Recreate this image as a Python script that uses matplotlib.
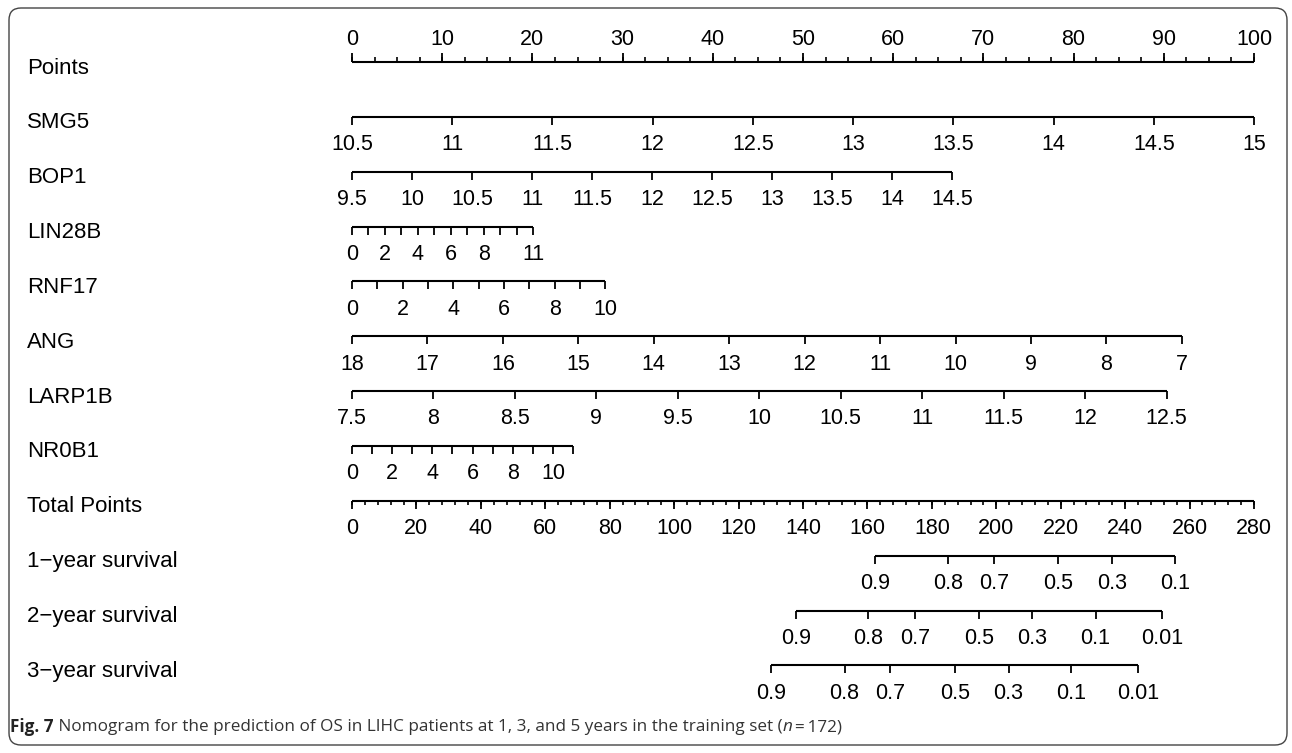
import matplotlib
matplotlib.use('Agg')
import matplotlib.pyplot as plt
import matplotlib.transforms as mtransforms
from matplotlib.patches import FancyBboxPatch
import numpy as np

plt.rcParams['font.family'] = ['Liberation Sans', 'DejaVu Sans']

# --- nomogram data ---
row_names = ['Points', 'SMG5', 'BOP1', 'LIN28B', 'RNF17', 'ANG', 'LARP1B', 'NR0B1',
             'Total Points', '1\u2212year survival', '2\u2212year survival',
             '3\u2212year survival']

points_major = list(range(0, 101, 10))
points_minor = [2.5 * i for i in range(41)]

# predictor scales: tick values, labelled values, points reached at the last tick
smg5_ticks = [10.5, 11, 11.5, 12, 12.5, 13, 13.5, 14, 14.5, 15]
smg5_labels = [10.5, 11, 11.5, 12, 12.5, 13, 13.5, 14, 14.5, 15]
smg5_max_pts = 100.0

bop1_ticks = [9.5, 10, 10.5, 11, 11.5, 12, 12.5, 13, 13.5, 14, 14.5]
bop1_labels = [9.5, 10, 10.5, 11, 11.5, 12, 12.5, 13, 13.5, 14, 14.5]
bop1_max_pts = 66.5

lin28b_ticks = [0, 1, 2, 3, 4, 5, 6, 7, 8, 9, 10, 11]
lin28b_labels = [0, 2, 4, 6, 8, 11]
lin28b_max_pts = 20.1

rnf17_ticks = [0, 1, 2, 3, 4, 5, 6, 7, 8, 9, 10]
rnf17_labels = [0, 2, 4, 6, 8, 10]
rnf17_max_pts = 28.1

ang_ticks = [18, 17, 16, 15, 14, 13, 12, 11, 10, 9, 8, 7]
ang_labels = [18, 17, 16, 15, 14, 13, 12, 11, 10, 9, 8, 7]
ang_max_pts = 92.0

larp1b_ticks = [7.5, 8, 8.5, 9, 9.5, 10, 10.5, 11, 11.5, 12, 12.5]
larp1b_labels = [7.5, 8, 8.5, 9, 9.5, 10, 10.5, 11, 11.5, 12, 12.5]
larp1b_max_pts = 90.3

nr0b1_ticks = [0, 1, 2, 3, 4, 5, 6, 7, 8, 9, 10, 11]
nr0b1_labels = [0, 2, 4, 6, 8, 10]
nr0b1_max_pts = 24.5

total_max = 280
total_major = list(range(0, 281, 20))
total_minor = list(range(0, 281, 4))

surv_probs_1y = [0.9, 0.8, 0.7, 0.5, 0.3, 0.1]
surv_total_1y = [162.4, 185.1, 199.2, 219.1, 235.9, 255.5]
surv_probs_2y = [0.9, 0.8, 0.7, 0.5, 0.3, 0.1, 0.01]
surv_total_2y = [137.8, 160.2, 174.7, 194.7, 211.2, 230.8, 251.4]
surv_probs_3y = [0.9, 0.8, 0.7, 0.5, 0.3, 0.1, 0.01]
surv_total_3y = [130.2, 152.9, 167.1, 187.1, 203.8, 223.3, 244.1]

caption_bold = 'Fig. 7'
caption_text = ' Nomogram for the prediction of OS in LIHC patients at 1, 3, and 5 years in the training set ('
caption_n = 'n'
caption_end = '\u2009=\u2009172)'

# --- layout (pixels of the 1292x753 output) ---
W, H, DPI = 1292, 753, 100
x_zero, px_per_pt = 352.0, 9.02
y_first, row_step = 62.0, 54.85
FS = 15.5
FS_ROW = 16
LW = 1.5

fig = plt.figure(figsize=(W / DPI, H / DPI), dpi=DPI)
ax = fig.add_axes([0, 0, 1, 1])
ax.set_xlim(-x_zero / px_per_pt, (W - x_zero) / px_per_pt)
ax.set_ylim((H - y_first) / row_step, -y_first / row_step)
ax.axis('off')


def fmt(v):
    return '%g' % v


def draw_scale(row, xs, tick_xs, label_xs, labels, up=False, minor_xs=None,
               tick_len=5.8, minor_len=3.0):
    ax.plot([min(xs), max(xs)], [row, row], color='black', lw=LW,
            solid_capstyle='butt')
    mk = 2 if up else 3
    ax.plot(tick_xs, [row] * len(tick_xs), ls='none', marker=mk, ms=tick_len,
            mew=1.3, color='black')
    if minor_xs is not None:
        ax.plot(minor_xs, [row] * len(minor_xs), ls='none', marker=mk,
                ms=minor_len, mew=1.2, color='black')
    dy = 16.5 if up else -20
    for x, lab in zip(label_xs, labels):
        ax.annotate(lab, (x, row), xytext=(0, dy), textcoords='offset points',
                    ha='center', va='center', fontsize=FS)


def predictor(row, ticks, labels, max_pts):
    lo, hi = ticks[0], ticks[-1]
    to_pts = lambda v: (v - lo) / (hi - lo) * max_pts
    txs = [to_pts(v) for v in ticks]
    lxs = [to_pts(v) for v in labels]
    draw_scale(row, txs, txs, lxs, [fmt(v) for v in labels])


# Points axis
draw_scale(0, points_major, points_major, points_major,
           [str(v) for v in points_major], up=True, minor_xs=points_minor,
           tick_len=6.3, minor_len=3.4)

predictor(1, smg5_ticks, smg5_labels, smg5_max_pts)
predictor(2, bop1_ticks, bop1_labels, bop1_max_pts)
predictor(3, lin28b_ticks, lin28b_labels, lin28b_max_pts)
predictor(4, rnf17_ticks, rnf17_labels, rnf17_max_pts)
predictor(5, ang_ticks, ang_labels, ang_max_pts)
predictor(6, larp1b_ticks, larp1b_labels, larp1b_max_pts)
predictor(7, nr0b1_ticks, nr0b1_labels, nr0b1_max_pts)

# Total points axis, rescaled onto the 0-100 points width
tp = lambda v: v * 100.0 / total_max
maj = [tp(v) for v in total_major]
mnr = [tp(v) for v in total_minor]
draw_scale(8, maj, maj, maj, [str(v) for v in total_major], minor_xs=mnr,
           tick_len=5.8, minor_len=3.0)

for row, probs, tots in [(9, surv_probs_1y, surv_total_1y),
                         (10, surv_probs_2y, surv_total_2y),
                         (11, surv_probs_3y, surv_total_3y)]:
    xs = [tp(v) for v in tots]
    draw_scale(row, xs, xs, xs, [fmt(p) for p in probs])

# row names
lab_tr = mtransforms.blended_transform_factory(fig.transFigure, ax.transData)
for i, name in enumerate(row_names):
    ax.text(27 / W, i + 6 / row_step, name, transform=lab_tr, ha='left',
            va='center', fontsize=FS_ROW)

# caption
renderer = fig.canvas.get_renderer()
cap_kw = dict(fontsize=12.3, color='#333333', va='center',
              family=['Open Sans', 'DejaVu Sans'])
x = 10 / W
y = 1 - 727 / H
for txt, extra in [(caption_bold, dict(weight='bold', color='#222222')),
                   (caption_text, {}), (caption_n, dict(style='italic')),
                   (caption_end, {})]:
    kw = dict(cap_kw)
    kw.update(extra)
    t = fig.text(x, y, txt, **kw)
    bb = t.get_window_extent(renderer=renderer)
    x = x + bb.width / W

# rounded frame
frame = FancyBboxPatch((9, 8), 1278, 737,
                       boxstyle='round,pad=0,rounding_size=12',
                       transform=mtransforms.IdentityTransform(),
                       fill=False, edgecolor='#444444', lw=1.0)
fig.patches.append(frame)

fig.savefig('out.png', dpi=DPI)
